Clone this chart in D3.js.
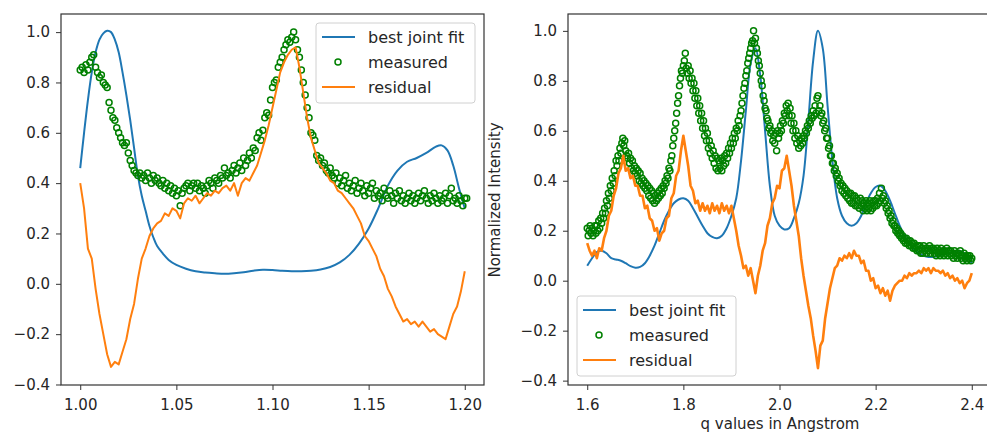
<!DOCTYPE html>
<html>
<head>
<meta charset="utf-8">
<script src="https://cdn.jsdelivr.net/npm/d3@7"></script>
<style>
	body { margin: 0; background: #fff; }
	text { font-family: "DejaVu Sans", sans-serif; fill: #262626; }
</style>
</head>
<body>
<div id="chart-area"></div>
<script>

// ---- data ----

let seriesNames = ["best joint fit", "measured", "residual"];

// left panel: q grid 1.00 .. 1.20
let leftFitQ = [1.000, 1.002, 1.004, 1.006, 1.008, 1.010, 1.012, 1.014, 1.016, 1.018, 1.020, 1.022, 1.024, 1.026, 1.028,
	1.030, 1.032, 1.034, 1.036, 1.038, 1.040, 1.043, 1.046, 1.050, 1.055, 1.060, 1.065, 1.070, 1.075, 1.080, 1.085,
	1.090, 1.095, 1.100, 1.105, 1.110, 1.115, 1.120, 1.125, 1.130, 1.135, 1.140, 1.145, 1.150, 1.155, 1.160, 1.165,
	1.170, 1.175, 1.180, 1.185, 1.188, 1.191, 1.194, 1.197, 1.200];
let leftFit = [0.46, 0.60, 0.73, 0.84, 0.92, 0.97, 0.995, 1.005, 1.00, 0.97, 0.92, 0.84, 0.75, 0.65, 0.54,
	0.43, 0.35, 0.29, 0.23, 0.185, 0.15, 0.12, 0.095, 0.075, 0.06, 0.05, 0.045, 0.042, 0.04, 0.042, 0.046,
	0.052, 0.056, 0.055, 0.052, 0.050, 0.050, 0.052, 0.057, 0.067, 0.085, 0.115, 0.16, 0.22, 0.30, 0.39, 0.45,
	0.485, 0.50, 0.52, 0.545, 0.55, 0.53, 0.47, 0.38, 0.30];

// measured, one point every 0.001 from 1.000
let leftMeasStart = 1.0, leftMeasStep = 0.001;
let leftMeasured = [
	0.85, 0.86, 0.84, 0.87, 0.85, 0.88, 0.90, 0.91, 0.86, 0.84, 0.82, 0.83, 0.80, 0.79, 0.78, 0.72, 0.69, 0.66, 0.65, 0.62, 0.60,
	0.58, 0.56, 0.55, 0.56, 0.52, 0.49, 0.47, 0.45, 0.44, 0.43, 0.44, 0.42, 0.43, 0.41, 0.44, 0.42, 0.40, 0.43, 0.41, 0.42,
	0.40, 0.39, 0.41, 0.38, 0.40, 0.37, 0.39, 0.36, 0.38, 0.35, 0.37, 0.31, 0.36, 0.38, 0.39, 0.40, 0.37, 0.39, 0.40, 0.38,
	0.40, 0.37, 0.39, 0.38, 0.36, 0.39, 0.41, 0.40, 0.38, 0.42, 0.41, 0.40, 0.43, 0.42, 0.46, 0.43, 0.44, 0.42, 0.45, 0.47,
	0.44, 0.46, 0.48, 0.45, 0.50, 0.47, 0.49, 0.52, 0.50, 0.54, 0.53, 0.58, 0.60, 0.57, 0.61, 0.66, 0.68, 0.67, 0.73, 0.78,
	0.80, 0.81, 0.86, 0.88, 0.90, 0.93, 0.95, 0.97, 0.96, 0.98, 1.00, 0.97, 0.93, 0.90, 0.85, 0.80, 0.75, 0.70, 0.66, 0.60,
	0.59, 0.57, 0.51, 0.49, 0.50, 0.47, 0.48, 0.45, 0.44, 0.46, 0.43, 0.42, 0.44, 0.40, 0.42, 0.39, 0.41, 0.43, 0.38, 0.40,
	0.37, 0.39, 0.41, 0.36, 0.38, 0.40, 0.37, 0.35, 0.39, 0.36, 0.38, 0.40, 0.34, 0.37, 0.35, 0.36, 0.33, 0.38, 0.35, 0.34,
	0.37, 0.35, 0.32, 0.36, 0.34, 0.37, 0.33, 0.35, 0.32, 0.34, 0.36, 0.33, 0.35, 0.32, 0.34, 0.36, 0.33, 0.35, 0.37, 0.34,
	0.32, 0.35, 0.33, 0.36, 0.34, 0.32, 0.35, 0.33, 0.34, 0.36, 0.32, 0.35, 0.38, 0.33, 0.34, 0.32, 0.35, 0.33, 0.31, 0.34, 0.34
];

// residual, one sample every 0.002 from 1.000
let leftResStart = 1.0, leftResStep = 0.002;
let leftResidual = [
	0.40, 0.30, 0.14, 0.10, -0.02, -0.12, -0.20, -0.28, -0.33, -0.31, -0.32, -0.27, -0.22, -0.14, -0.08, 0.02,
	0.10, 0.14, 0.19, 0.22, 0.24, 0.25, 0.28, 0.27, 0.30, 0.29, 0.26, 0.32, 0.34, 0.33, 0.35, 0.32,
	0.34, 0.36, 0.35, 0.37, 0.36, 0.38, 0.39, 0.37, 0.40, 0.35, 0.40, 0.42, 0.41, 0.44, 0.47, 0.52,
	0.57, 0.63, 0.70, 0.77, 0.84, 0.88, 0.91, 0.93, 0.94, 0.86, 0.76, 0.66, 0.58, 0.53, 0.48, 0.46,
	0.44, 0.41, 0.40, 0.37, 0.36, 0.34, 0.32, 0.30, 0.27, 0.24, 0.19, 0.17, 0.14, 0.11, 0.06, 0.03,
	-0.02, -0.05, -0.09, -0.12, -0.15, -0.14, -0.16, -0.15, -0.17, -0.15, -0.17, -0.19, -0.18, -0.20, -0.21, -0.22,
	-0.17, -0.12, -0.09, -0.03, 0.05
];

let leftXTicks = [1.00, 1.05, 1.10, 1.15, 1.20];
let leftYTicks = [-0.4, -0.2, 0.0, 0.2, 0.4, 0.6, 0.8, 1.0];

// right panel: q grid 1.6 .. 2.4
let rightFitQ = [1.60, 1.61, 1.62, 1.63, 1.64, 1.65, 1.66, 1.67, 1.68, 1.69, 1.70, 1.71, 1.72, 1.73, 1.74, 1.75,
	1.76, 1.77, 1.78, 1.79, 1.80, 1.81, 1.82, 1.83, 1.84, 1.85, 1.86, 1.87, 1.88, 1.89, 1.90, 1.91, 1.92, 1.93,
	1.94, 1.95, 1.96, 1.97, 1.98, 1.99, 2.00, 2.01, 2.02, 2.03, 2.04, 2.05, 2.06, 2.07, 2.08, 2.09, 2.10, 2.11,
	2.12, 2.13, 2.14, 2.15, 2.16, 2.17, 2.18, 2.19, 2.20, 2.21, 2.22, 2.23, 2.24, 2.25, 2.26, 2.27, 2.28, 2.29,
	2.30, 2.31, 2.32, 2.33, 2.34, 2.35, 2.36, 2.37, 2.38, 2.39, 2.40];
let rightFit = [0.06, 0.09, 0.115, 0.12, 0.11, 0.09, 0.085, 0.08, 0.07, 0.058, 0.052, 0.055, 0.07, 0.10, 0.14, 0.19,
	0.24, 0.28, 0.31, 0.325, 0.33, 0.32, 0.29, 0.255, 0.22, 0.19, 0.175, 0.17, 0.18, 0.21, 0.26, 0.33, 0.48, 0.68,
	0.87, 0.93, 0.82, 0.60, 0.38, 0.26, 0.22, 0.205, 0.21, 0.25, 0.31, 0.42, 0.64, 0.88, 1.00, 0.93, 0.70, 0.48,
	0.33, 0.26, 0.23, 0.22, 0.23, 0.26, 0.31, 0.35, 0.375, 0.38, 0.36, 0.32, 0.27, 0.22, 0.18, 0.15, 0.125, 0.11,
	0.10, 0.095, 0.095, 0.10, 0.105, 0.11, 0.115, 0.12, 0.115, 0.10, 0.07];

// measured, one point every 0.002 from 1.6 (each row spans 0.04)
let rightMeasStart = 1.6, rightMeasStep = 0.002;
let rightMeasured = [
	0.21, 0.18, 0.20, 0.22, 0.19, 0.21, 0.18, 0.20, 0.22, 0.19, 0.22, 0.20, 0.24, 0.21, 0.25, 0.23, 0.27, 0.25, 0.29, 0.27,
	0.32, 0.30, 0.35, 0.33, 0.38, 0.36, 0.41, 0.39, 0.44, 0.42, 0.48, 0.46, 0.50, 0.48, 0.53, 0.51, 0.55, 0.57, 0.54, 0.56,
	0.52, 0.50, 0.49, 0.51, 0.47, 0.49, 0.45, 0.48, 0.44, 0.46, 0.43, 0.45, 0.42, 0.44, 0.40, 0.43, 0.39, 0.41, 0.38, 0.40,
	0.37, 0.39, 0.36, 0.38, 0.34, 0.37, 0.33, 0.36, 0.32, 0.35, 0.31, 0.34, 0.32, 0.35, 0.33, 0.36, 0.34, 0.37, 0.35, 0.38,
	0.37, 0.40, 0.39, 0.42, 0.41, 0.45, 0.44, 0.48, 0.50, 0.54, 0.57, 0.60, 0.63, 0.67, 0.71, 0.74, 0.78, 0.81, 0.84, 0.83,
	0.86, 0.88, 0.91, 0.85, 0.83, 0.86, 0.81, 0.84, 0.79, 0.81, 0.76, 0.79, 0.73, 0.76, 0.70, 0.73, 0.67, 0.70, 0.64, 0.67,
	0.61, 0.64, 0.58, 0.61, 0.56, 0.59, 0.53, 0.56, 0.51, 0.54, 0.49, 0.52, 0.47, 0.50, 0.45, 0.49, 0.44, 0.48, 0.45, 0.49,
	0.44, 0.48, 0.46, 0.50, 0.47, 0.51, 0.49, 0.53, 0.51, 0.55, 0.53, 0.57, 0.55, 0.59, 0.57, 0.61, 0.60, 0.64, 0.62, 0.66,
	0.68, 0.71, 0.74, 0.77, 0.79, 0.82, 0.84, 0.87, 0.89, 0.91, 0.93, 0.95, 0.96, 1.00, 0.95, 0.97, 0.93, 0.91, 0.88, 0.86,
	0.83, 0.80, 0.78, 0.74, 0.72, 0.69, 0.68, 0.65, 0.64, 0.61, 0.62, 0.59, 0.60, 0.56, 0.58, 0.55, 0.59, 0.52, 0.60, 0.57,
	0.59, 0.62, 0.60, 0.64, 0.63, 0.67, 0.66, 0.70, 0.68, 0.71, 0.66, 0.69, 0.63, 0.66, 0.60, 0.63, 0.57, 0.60, 0.55, 0.58,
	0.53, 0.56, 0.54, 0.57, 0.55, 0.58, 0.57, 0.60, 0.59, 0.62, 0.61, 0.64, 0.63, 0.66, 0.65, 0.68, 0.66, 0.70, 0.67, 0.73,
	0.74, 0.68, 0.70, 0.66, 0.67, 0.63, 0.64, 0.60, 0.61, 0.57, 0.57, 0.53, 0.54, 0.50, 0.50, 0.47, 0.47, 0.44, 0.45, 0.42,
	0.43, 0.40, 0.41, 0.38, 0.39, 0.36, 0.38, 0.35, 0.37, 0.34, 0.36, 0.33, 0.35, 0.32, 0.35, 0.31, 0.34, 0.31, 0.34, 0.30,
	0.33, 0.30, 0.32, 0.29, 0.33, 0.30, 0.32, 0.28, 0.31, 0.29, 0.32, 0.28, 0.31, 0.29, 0.32, 0.28, 0.31, 0.29, 0.32, 0.30,
	0.32, 0.30, 0.33, 0.31, 0.35, 0.32, 0.37, 0.33, 0.34, 0.31, 0.32, 0.29, 0.30, 0.27, 0.28, 0.25, 0.26, 0.23, 0.24, 0.22,
	0.22, 0.20, 0.21, 0.19, 0.20, 0.18, 0.19, 0.17, 0.18, 0.16, 0.17, 0.15, 0.17, 0.15, 0.16, 0.14, 0.16, 0.14, 0.15, 0.13,
	0.15, 0.13, 0.14, 0.12, 0.14, 0.12, 0.14, 0.11, 0.13, 0.11, 0.14, 0.12, 0.13, 0.11, 0.13, 0.12, 0.14, 0.11, 0.13, 0.12,
	0.13, 0.11, 0.12, 0.10, 0.13, 0.11, 0.12, 0.10, 0.13, 0.11, 0.12, 0.10, 0.12, 0.11, 0.13, 0.10, 0.12, 0.11, 0.12, 0.10,
	0.11, 0.09, 0.12, 0.10, 0.11, 0.09, 0.11, 0.10, 0.12, 0.09, 0.10, 0.08, 0.11, 0.09, 0.10, 0.08, 0.10, 0.09, 0.10, 0.08,
	0.09
];

// residual, one sample every 0.005 from 1.6
let rightResStart = 1.6, rightResStep = 0.005;
let rightResidual = [
	0.15, 0.12, 0.10, 0.12, 0.09, 0.13, 0.12, 0.17, 0.20, 0.26, 0.28, 0.34, 0.37, 0.43, 0.45, 0.50,
	0.44, 0.45, 0.41, 0.42, 0.38, 0.38, 0.34, 0.34, 0.29, 0.30, 0.25, 0.24, 0.20, 0.21, 0.16, 0.19,
	0.20, 0.25, 0.26, 0.33, 0.35, 0.42, 0.44, 0.52, 0.58, 0.52, 0.46, 0.38, 0.36, 0.31, 0.32, 0.28,
	0.31, 0.28, 0.30, 0.27, 0.31, 0.28, 0.30, 0.27, 0.31, 0.28, 0.30, 0.27, 0.30, 0.25, 0.20, 0.14,
	0.10, 0.05, 0.06, 0.02, 0.05, 0.00, -0.05, 0.02, 0.06, 0.12, 0.15, 0.22, 0.25, 0.31, 0.33, 0.38,
	0.37, 0.44, 0.45, 0.50, 0.44, 0.38, 0.30, 0.24, 0.18, 0.09, 0.02, -0.04, -0.10, -0.15, -0.22, -0.28,
	-0.35, -0.26, -0.24, -0.15, -0.09, -0.03, 0.01, 0.05, 0.06, 0.09, 0.08, 0.10, 0.09, 0.11, 0.09, 0.12,
	0.10, 0.10, 0.07, 0.08, 0.04, 0.04, 0.00, 0.01, -0.03, -0.02, -0.05, -0.03, -0.06, -0.04, -0.08, -0.04,
	-0.02, -0.01, 0.00, 0.00, 0.02, 0.01, 0.03, 0.02, 0.03, 0.03, 0.04, 0.03, 0.05, 0.04, 0.05, 0.03,
	0.05, 0.04, 0.04, 0.03, 0.04, 0.02, 0.03, 0.01, 0.02, 0.00, 0.01, -0.01, 0.00, -0.03, -0.01, 0.00,
	0.03
];

let rightXTicks = [1.6, 1.8, 2.0, 2.2, 2.4];
let rightYTicks = [-0.4, -0.2, 0.0, 0.2, 0.4, 0.6, 0.8, 1.0];

// ---- drawing ----

let fullWidth = 987, fullHeight = 434;
let fitColor = "#1f77b4", measColor = "#008000", resColor = "#ff7f0e";

let svg = d3.select("#chart-area").append("svg")
	.attr("width", fullWidth)
	.attr("height", fullHeight)
	.style("display", "block");

svg.append("rect").attr("width", fullWidth).attr("height", fullHeight).attr("fill", "#fff");

// turn a grid (start, step) and values into points
function gridPoints(start, step, values) {
	return values.map((v, i) => ({q: +(start + i * step).toFixed(4), v: v}));
}
function pairPoints(qs, values) {
	return qs.map((q, i) => ({q: q, v: values[i]}));
}

let minus = s => s.replace("-", "\u2212");

function drawPanel(cfg) {
	let xscale = d3.scaleLinear().domain(cfg.xDomain).range([cfg.left, cfg.right]);
	let yscale = d3.scaleLinear().domain(cfg.yDomain).range([cfg.bottom, cfg.top]);

	let g = svg.append("g");

	let clipId = "clip" + cfg.id;
	g.append("clipPath").attr("id", clipId)
		.append("rect")
		.attr("x", cfg.left).attr("y", cfg.top)
		.attr("width", cfg.right - cfg.left).attr("height", cfg.bottom - cfg.top);

	let plot = g.append("g").attr("clip-path", "url(#" + clipId + ")");

	let line = d3.line()
		.x(d => xscale(d.q))
		.y(d => yscale(d.v));

	plot.append("path")
		.datum(cfg.fit)
		.attr("fill", "none")
		.attr("stroke", fitColor)
		.attr("stroke-width", 2)
		.attr("d", line.curve(d3.curveCatmullRom));

	plot.selectAll("circle.meas")
		.data(cfg.measured)
		.enter()
		.append("circle")
		.attr("class", "meas")
		.attr("cx", d => xscale(d.q))
		.attr("cy", d => yscale(d.v))
		.attr("r", 3)
		.attr("fill", "none")
		.attr("stroke", measColor)
		.attr("stroke-width", 1.5);

	plot.append("path")
		.datum(cfg.residual)
		.attr("fill", "none")
		.attr("stroke", resColor)
		.attr("stroke-width", cfg.resWidth)
		.attr("stroke-linejoin", "round")
		.attr("d", line.curve(d3.curveLinear));

	// axes
	let xAxis = d3.axisBottom(xscale)
		.tickValues(cfg.xTicks)
		.tickFormat(cfg.xFormat)
		.tickSize(5)
		.tickPadding(9);
	let yAxis = d3.axisLeft(yscale)
		.tickValues(cfg.yTicks)
		.tickFormat(d => minus(d3.format(".1f")(d)))
		.tickSize(5)
		.tickPadding(6);

	let xg = g.append("g")
		.attr("transform", "translate(0," + cfg.bottom + ")")
		.call(xAxis);
	let yg = g.append("g")
		.attr("transform", "translate(" + cfg.left + ",0)")
		.call(yAxis);

	[xg, yg].forEach(ax => {
		ax.select(".domain").remove();
		ax.selectAll(".tick line").attr("stroke", "#333").attr("stroke-width", 1);
		ax.selectAll(".tick text")
			.attr("fill", "#262626")
			.style("font-size", "15px")
			.style("font-family", "'DejaVu Sans', sans-serif");
	});

	// frame
	g.append("rect")
		.attr("x", cfg.left).attr("y", cfg.top)
		.attr("width", cfg.right - cfg.left).attr("height", cfg.bottom - cfg.top)
		.attr("fill", "none")
		.attr("stroke", "#333")
		.attr("stroke-width", 1.2);

	// legend
	let lg = g.append("g").attr("transform", "translate(" + cfg.legend[0] + "," + cfg.legend[1] + ")");
	lg.append("rect")
		.attr("width", 159).attr("height", 80)
		.attr("rx", 3)
		.attr("fill", "#fff").attr("fill-opacity", 0.8)
		.attr("stroke", "#d0d0d0");

	seriesNames.forEach((name, i) => {
		let yy = 14 + i * 25;
		if (i === 1) {
			lg.append("circle")
				.attr("cx", 22).attr("cy", yy)
				.attr("r", 3)
				.attr("fill", "none")
				.attr("stroke", measColor)
				.attr("stroke-width", 1.5);
		} else {
			lg.append("line")
				.attr("x1", 6).attr("x2", 39)
				.attr("y1", yy).attr("y2", yy)
				.attr("stroke", i === 0 ? fitColor : resColor)
				.attr("stroke-width", 2);
		}
		lg.append("text")
			.attr("x", 52).attr("y", yy)
			.attr("dy", "0.36em")
			.style("font-size", "16px")
			.text(name);
	});

	return {xscale, yscale};
}

drawPanel({
	id: "L",
	left: 61, right: 484, top: 14, bottom: 385,
	xDomain: [0.99, 1.21],
	yDomain: [-0.402, 1.072],
	xTicks: leftXTicks,
	yTicks: leftYTicks,
	xFormat: d3.format(".2f"),
	fit: pairPoints(leftFitQ, leftFit),
	measured: gridPoints(leftMeasStart, leftMeasStep, leftMeasured),
	residual: gridPoints(leftResStart, leftResStep, leftResidual),
	resWidth: 2,
	legend: [316, 23]
});

drawPanel({
	id: "R",
	left: 568, right: 991, top: 14, bottom: 385,
	xDomain: [1.56, 2.44],
	yDomain: [-0.4175, 1.0675],
	xTicks: rightXTicks,
	yTicks: rightYTicks,
	xFormat: d3.format(".1f"),
	fit: pairPoints(rightFitQ, rightFit),
	measured: gridPoints(rightMeasStart, rightMeasStep, rightMeasured),
	residual: gridPoints(rightResStart, rightResStep, rightResidual),
	resWidth: 2.6,
	legend: [577, 296]
});

// axis titles of the right panel
svg.append("text")
	.attr("transform", "translate(500,200) rotate(-90)")
	.style("text-anchor", "middle")
	.style("font-size", "15px")
	.text("Normalized Intensity");

svg.append("text")
	.attr("x", 780).attr("y", 429)
	.style("text-anchor", "middle")
	.style("font-size", "15px")
	.text("q values in Angstrom");

</script>
</body>
</html>
